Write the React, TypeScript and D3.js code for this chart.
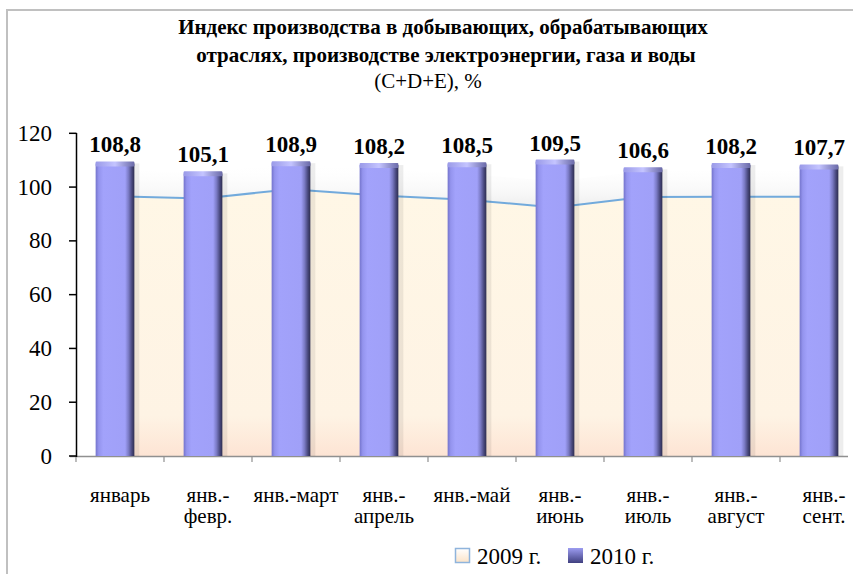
import React, { useEffect, useRef } from 'react';
import * as d3 from 'd3';

// chart data
const categories = [
  'январь',
  'янв.-|февр.',
  'янв.-март',
  'янв.-|апрель',
  'янв.-май',
  'янв.-|июнь',
  'янв.-|июль',
  'янв.-|август',
  'янв.-|сент.',
];
const values2009 = [96.6, 95.8, 99.2, 96.9, 95.3, 92.4, 96.3, 96.4, 96.4];
const values2010 = [108.8, 105.1, 108.9, 108.2, 108.5, 109.5, 106.6, 108.2, 107.7];
const yTicks = [0, 20, 40, 60, 80, 100, 120];
const seriesNames = ['2009 г.', '2010 г.'];
const titleLines = [
  'Индекс производства в добывающих, обрабатывающих',
  'отраслях, производстве  электроэнергии, газа и воды',
  '(C+D+E), %',
];

const W = 853;
const H = 574;
const FF = 'Liberation Serif';

const App = () => {
  const ref = useRef<SVGSVGElement>(null);

  useEffect(() => {
    const svg = d3.select(ref.current);
    svg.selectAll('*').remove();

    // scales
    const x = d3.scaleBand<string>().domain(categories).range([71, 863]).padding(0);
    const y = d3.scaleLinear().domain([0, 120]).range([456, 133.3]);
    const barW = x.bandwidth() * 0.44;
    const cx = (c: string) => (x(c) as number) + x.bandwidth() / 2;

    const defs = svg.append('defs');
    const grad = (id: string, vertical: boolean, stops: [number, string, number?][]) => {
      const g = defs
        .append('linearGradient')
        .attr('id', id)
        .attr('x1', 0)
        .attr('y1', 0)
        .attr('x2', vertical ? 0 : 1)
        .attr('y2', vertical ? 1 : 0);
      stops.forEach(s => {
        g.append('stop')
          .attr('offset', s[0])
          .attr('stop-color', s[1])
          .attr('stop-opacity', s[2] === undefined ? 1 : s[2]);
      });
    };
    grad('bar', false, [
      [0, '#7474cc'],
      [0.08, '#9494ee'],
      [0.2, '#a2a2fb'],
      [0.76, '#a0a0f8'],
      [0.85, '#7a7ac4'],
      [0.94, '#46467a'],
      [1, '#2e2e50'],
    ]);
    grad('cap', false, [
      [0, '#9a9ae8'],
      [0.5, '#c4c4ff'],
      [1, '#6a6aa8'],
    ]);
    grad('cream', true, [
      [0, '#fff7e6'],
      [0.85, '#fef3e4'],
      [1, '#fde4d4'],
    ]);
    grad('shade', true, [
      [0, '#ffffff', 0],
      [1, '#dcdcdc', 0.5],
    ]);
    grad('leg09', true, [
      [0, '#ffffff'],
      [1, '#fbe3c8'],
    ]);
    grad('leg10', true, [
      [0, '#9c9cf0'],
      [1, '#404080'],
    ]);

    svg.append('rect').attr('width', W).attr('height', H).attr('fill', '#fff');

    // frame
    svg.append('line').attr('x1', 6).attr('x2', W).attr('y1', 10).attr('y2', 10).attr('stroke', '#c0c0c0').attr('stroke-width', 2);
    svg.append('line').attr('x1', 7).attr('x2', 7).attr('y1', 10).attr('y2', H).attr('stroke', '#c0c0c0').attr('stroke-width', 2);

    const text = (sel: any) => sel.append('text').attr('font-family', FF).style('font-family', FF);

    // title
    text(svg)
      .attr('x', 443)
      .attr('y', 34)
      .attr('text-anchor', 'middle')
      .attr('font-size', 21)
      .attr('font-weight', 'bold')
      .text(titleLines[0]);
    text(svg)
      .attr('x', 446)
      .attr('y', 62)
      .attr('text-anchor', 'middle')
      .attr('font-size', 21)
      .attr('font-weight', 'bold')
      .text(titleLines[1]);
    text(svg)
      .attr('x', 428)
      .attr('y', 88)
      .attr('text-anchor', 'middle')
      .attr('font-size', 21)
      .text(titleLines[2]);

    // 2009 area
    const pts = values2009.map((v, i) => [cx(categories[i]), y(v)] as [number, number]);
    const shadow = d3
      .area<[number, number]>()
      .x(d => d[0])
      .y0(d => d[1])
      .y1(d => d[1] - 26);
    const area = d3
      .area<[number, number]>()
      .x(d => d[0])
      .y0(y(0))
      .y1(d => d[1]);
    const line = d3
      .line<[number, number]>()
      .x(d => d[0])
      .y(d => d[1]);
    svg.append('path').attr('d', shadow(pts)).attr('fill', 'url(#shade)');
    svg.append('path').attr('d', area(pts)).attr('fill', 'url(#cream)');
    svg.append('path').attr('d', line(pts)).attr('fill', 'none').attr('stroke', '#72aadc').attr('stroke-width', 2);

    // axes
    svg.append('line').attr('x1', 70).attr('x2', 848).attr('y1', 456.5).attr('y2', 456.5).attr('stroke', '#909090').attr('stroke-width', 1.5);
    svg.append('line').attr('x1', 76.5).attr('x2', 76.5).attr('y1', 133).attr('y2', 457).attr('stroke', '#000').attr('stroke-width', 1.5);
    yTicks.forEach(t => {
      svg.append('line').attr('x1', 69).attr('x2', 76.5).attr('y1', y(t)).attr('y2', y(t)).attr('stroke', '#000').attr('stroke-width', 1.5);
      text(svg)
        .attr('x', 52)
        .attr('y', y(t) + 7.5)
        .attr('text-anchor', 'end')
        .attr('font-size', 23)
        .text(t);
    });
    categories.forEach(c => {
      const tx = (x(c) as number) + 5;
      svg.append('line').attr('x1', tx).attr('x2', tx).attr('y1', 457).attr('y2', 462).attr('stroke', '#909090').attr('stroke-width', 1.2);
    });

    // 2010 bars
    values2010.forEach((v, i) => {
      const c = categories[i];
      const bx = cx(c) - barW / 2;
      const top = y(v);
      svg.append('rect').attr('x', bx + 2).attr('y', top).attr('width', barW + 3).attr('height', y(0) - top).attr('fill', '#000').attr('opacity', 0.07);
      svg.append('rect').attr('x', bx).attr('y', top).attr('width', barW).attr('height', y(0) - top).attr('fill', 'url(#bar)');
      svg.append('rect').attr('x', bx).attr('y', top - 2).attr('width', barW).attr('height', 5).attr('rx', 1).attr('fill', 'url(#cap)');
      text(svg)
        .attr('x', cx(c))
        .attr('y', top - 11)
        .attr('text-anchor', 'middle')
        .attr('font-size', 23)
        .attr('font-weight', 'bold')
        .text(d3.format('.1f')(v).replace('.', ','));
    });

    // category labels
    categories.forEach(c => {
      const t = text(svg).attr('y', 502).attr('font-size', 21).attr('text-anchor', 'middle');
      c.split('|').forEach((p, j) => {
        t.append('tspan').attr('x', cx(c) + 5).attr('dy', j === 0 ? 0 : 21).text(p);
      });
    });

    // legend
    svg.append('rect').attr('x', 455.5).attr('y', 548.5).attr('width', 14).attr('height', 14).attr('fill', 'url(#leg09)').attr('stroke', '#8fb4dc').attr('stroke-width', 1.5);
    text(svg).attr('x', 477).attr('y', 564).attr('font-size', 23).text(seriesNames[0]);
    svg.append('rect').attr('x', 568).attr('y', 548).attr('width', 15).attr('height', 15).attr('fill', 'url(#leg10)');
    text(svg).attr('x', 590).attr('y', 564).attr('font-size', 23).text(seriesNames[1]);
  }, []);

  return <svg ref={ref} width={W} height={H} style={{ position: 'absolute', left: 0, top: 0 }} />;
};

export default App;
